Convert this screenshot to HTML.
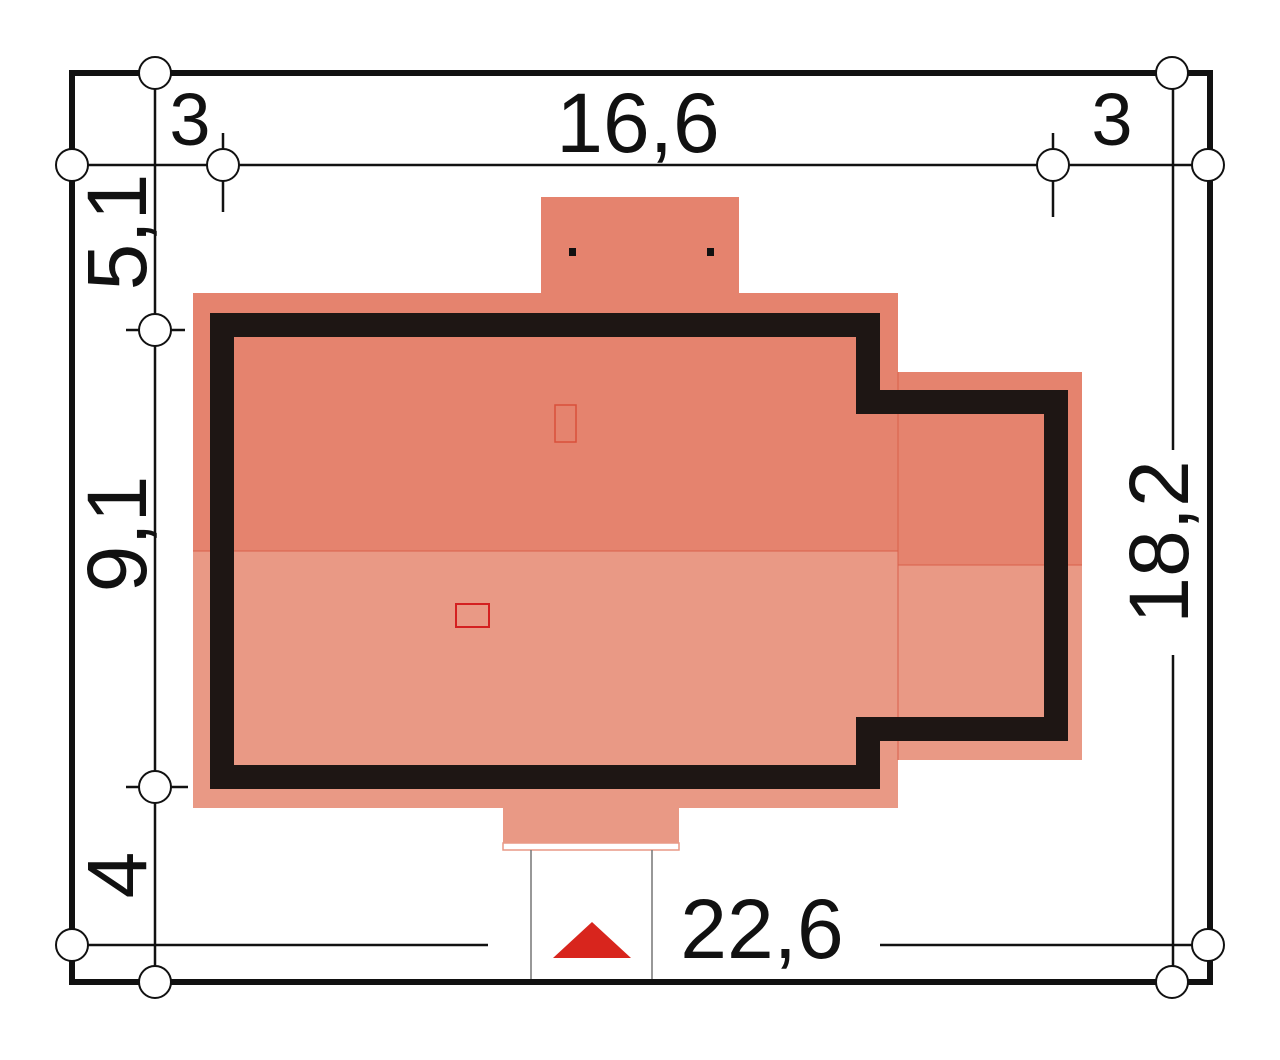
<!DOCTYPE html>
<html><head><style>body{margin:0;background:#fff}</style></head><body>
<svg width="1280" height="1055" viewBox="0 0 1280 1055" xmlns="http://www.w3.org/2000/svg" font-family="Liberation Sans, sans-serif">
<rect width="1280" height="1055" fill="#fff"/>
<!-- roof -->
<rect x="541" y="197" width="198" height="100" fill="#e5836e"/>
<rect x="193" y="293" width="705" height="258" fill="#e5836e"/>
<rect x="193" y="551" width="705" height="257" fill="#e99985"/>
<rect x="898" y="372" width="184" height="193" fill="#e5836e"/>
<rect x="898" y="565" width="184" height="195" fill="#e99985"/>
<rect x="503" y="808" width="176" height="35" fill="#e99985"/>
<rect x="503" y="843" width="176" height="7" fill="#fff" stroke="#e99985" stroke-width="1.5"/>
<line x1="193" y1="551" x2="898" y2="551" stroke="#d9604a" stroke-width="1"/>
<line x1="898" y1="565" x2="1082" y2="565" stroke="#d9604a" stroke-width="1"/>
<line x1="898" y1="372" x2="898" y2="760" stroke="#d9604a" stroke-width="1"/>
<rect x="569" y="248" width="7" height="8" fill="#111"/>
<rect x="707" y="248" width="7" height="8" fill="#111"/>
<rect x="555" y="405" width="21" height="37" fill="none" stroke="#d9503a" stroke-width="1.5"/>
<rect x="456" y="604" width="33" height="23" fill="none" stroke="#d42020" stroke-width="2"/>
<path d="M222 325 H868 V402 H1056 V729 H868 V777 H222 Z" fill="none" stroke="#1e1614" stroke-width="24"/>
<!-- entry -->
<line x1="531" y1="850" x2="531" y2="980" stroke="#777" stroke-width="1.5"/>
<line x1="652" y1="850" x2="652" y2="980" stroke="#777" stroke-width="1.5"/>
<polygon points="553,958 631,958 592,922" fill="#d8251d"/>
<!-- frame -->
<rect x="72" y="73" width="1138" height="909" fill="none" stroke="#111" stroke-width="6"/>
<g stroke="#111" stroke-width="2.5" fill="none">
<line x1="72" y1="165" x2="1210" y2="165"/>
<line x1="155" y1="73" x2="155" y2="982"/>
<line x1="1173" y1="73" x2="1173" y2="450"/>
<line x1="1173" y1="655" x2="1173" y2="982"/>
<line x1="72" y1="945" x2="488" y2="945"/>
<line x1="880" y1="945" x2="1210" y2="945"/>
<line x1="223" y1="133" x2="223" y2="212"/>
<line x1="1053" y1="133" x2="1053" y2="217"/>
<line x1="126" y1="330" x2="185" y2="330"/>
<line x1="126" y1="787" x2="188" y2="787"/>
</g>
<g fill="#fff" stroke="#111" stroke-width="2">
<circle cx="155" cy="73" r="16"/><circle cx="1172" cy="73" r="16"/>
<circle cx="72" cy="165" r="16"/><circle cx="223" cy="165" r="16"/>
<circle cx="1053" cy="165" r="16"/><circle cx="1208" cy="165" r="16"/>
<circle cx="155" cy="330" r="16"/><circle cx="155" cy="787" r="16"/>
<circle cx="72" cy="945" r="16"/><circle cx="1208" cy="945" r="16"/>
<circle cx="155" cy="982" r="16"/><circle cx="1172" cy="982" r="16"/>
</g>
<g fill="#111" font-size="84">
<text x="638" y="152" text-anchor="middle">16,6</text>
<text x="190" y="145" text-anchor="middle" font-size="74">3</text>
<text x="1112" y="145" text-anchor="middle" font-size="74">3</text>
<text x="762" y="958" text-anchor="middle">22,6</text>
<text transform="translate(146,232) rotate(-90)" text-anchor="middle">5,1</text>
<text transform="translate(146,534) rotate(-90)" text-anchor="middle">9,1</text>
<text transform="translate(146,875) rotate(-90)" text-anchor="middle">4</text>
<text transform="translate(1188,542) rotate(-90)" text-anchor="middle">18,2</text>
</g>
</svg>
</body></html>
